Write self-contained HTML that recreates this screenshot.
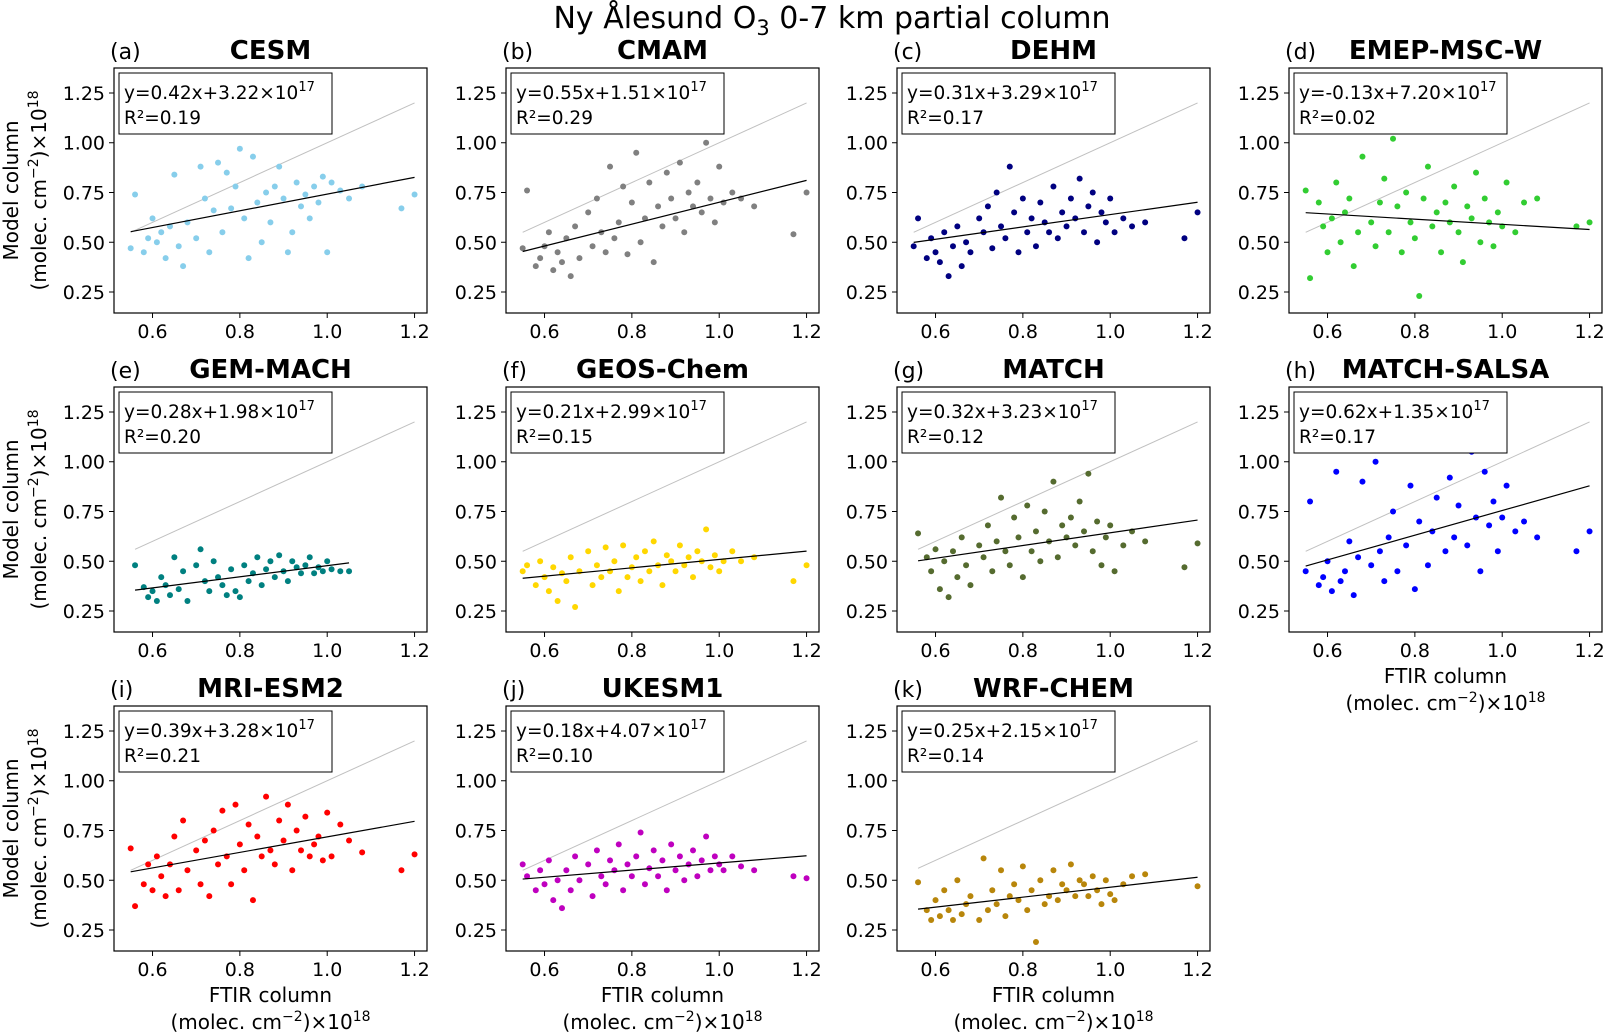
<!DOCTYPE html>
<html><head><meta charset="utf-8">
<style>
html,body{margin:0;padding:0;background:#fff;}
svg{display:block;font-family:"DejaVu Sans","Liberation Sans",sans-serif;}
</style></head>
<body>
<svg id="fig" width="1604" height="1035" viewBox="0 0 1604 1035" xmlns="http://www.w3.org/2000/svg">
<rect width="1604" height="1035" fill="#fff"/>
<text x="832" y="28" font-size="30" text-anchor="middle">Ny Ålesund O<tspan font-size="21" dy="7">3</tspan><tspan dy="-7"> 0-7 km partial column</tspan></text>
</svg>
<script>
const ftirX = [0.55,0.56,0.58,0.59,0.60,0.61,0.62,0.63,0.64,0.65,0.66,0.67,0.68,0.70,0.71,0.72,0.73,0.74,0.75,0.76,0.77,0.78,0.79,0.80,0.81,0.82,0.83,0.84,0.85,0.86,0.87,0.88,0.89,0.90,0.91,0.92,0.93,0.94,0.95,0.96,0.97,0.98,0.99,1.00,1.01,1.03,1.05,1.08,1.17,1.20];
const xTicks = [0.6,0.8,1.0,1.2];
const xTickLabels = ["0.6","0.8","1.0","1.2"];
const yTicks = [0.25,0.5,0.75,1.0,1.25];
const yTickLabels = ["0.25","0.50","0.75","1.00","1.25"];
const modelNames = ["CESM","CMAM","DEHM","EMEP-MSC-W","GEM-MACH","GEOS-Chem","MATCH","MATCH-SALSA","MRI-ESM2","UKESM1","WRF-CHEM"];
const panelLetters = ["(a)","(b)","(c)","(d)","(e)","(f)","(g)","(h)","(i)","(j)","(k)"];
const slopes = [0.42,0.55,0.31,-0.13,0.28,0.21,0.32,0.62,0.39,0.18,0.25];
const intercepts17 = [3.22,1.51,3.29,7.20,1.98,2.99,3.23,1.35,3.28,4.07,2.15];
const r2Values = ["0.19","0.29","0.17","0.02","0.20","0.15","0.12","0.17","0.21","0.10","0.14"];
const colors = ["#87ceeb","#808080","#000080","#32cd32","#008080","#ffd700","#556b2f","#0000ff","#ff0000","#bf00bf","#b8860b"];
const yCESM = [0.47,0.74,0.45,0.52,0.62,0.50,0.55,0.42,0.58,0.84,0.48,0.38,0.60,0.52,0.88,0.72,0.45,0.66,0.90,0.55,0.85,0.67,0.78,0.97,0.62,0.42,0.93,0.70,0.50,0.75,0.60,0.78,0.88,0.72,0.45,0.55,0.80,0.68,0.74,0.62,0.78,0.70,0.83,0.45,0.80,0.76,0.72,0.78,0.67,0.74];
const yCMAM = [0.47,0.76,0.38,0.42,0.48,0.55,0.36,0.45,0.40,0.52,0.33,0.58,0.42,0.65,0.48,0.72,0.55,0.45,0.88,0.52,0.60,0.78,0.44,0.70,0.95,0.50,0.62,0.80,0.40,0.68,0.58,0.85,0.72,0.62,0.90,0.55,0.75,0.68,0.80,0.65,1.00,0.72,0.60,0.88,0.70,0.75,0.72,0.68,0.54,0.75];
const yDEHM = [0.48,0.62,0.42,0.52,0.45,0.40,0.55,0.33,0.48,0.58,0.38,0.50,0.45,0.62,0.55,0.68,0.47,0.75,0.58,0.52,0.88,0.65,0.45,0.72,0.55,0.62,0.48,0.70,0.60,0.55,0.78,0.52,0.65,0.58,0.72,0.62,0.82,0.55,0.68,0.75,0.50,0.65,0.60,0.72,0.55,0.62,0.58,0.60,0.52,0.65];
const yEMEP = [0.76,0.32,0.70,0.58,0.45,0.62,0.80,0.50,0.65,0.72,0.38,0.55,0.93,0.60,0.48,0.70,0.82,0.55,1.02,0.68,0.45,0.75,0.60,0.52,0.23,0.72,0.88,0.58,0.65,0.45,0.70,0.60,0.78,0.55,0.40,0.68,0.62,0.85,0.50,0.72,0.60,0.48,0.65,0.58,0.80,0.55,0.70,0.72,0.58,0.60];
const yGEM = [null,0.48,0.37,0.32,0.35,0.30,0.42,0.38,0.33,0.52,0.36,0.45,0.30,0.48,0.56,0.40,0.35,0.50,0.42,0.38,0.33,0.46,0.35,0.32,0.48,0.40,0.44,0.52,0.38,0.46,0.50,0.42,0.53,0.45,0.40,0.50,0.47,0.44,0.48,0.52,0.44,0.47,0.45,0.50,0.46,0.45,0.45,null,null,null];
const yGEOS = [0.45,0.48,0.38,0.50,0.42,0.35,0.47,0.30,0.44,0.40,0.52,0.27,0.45,0.55,0.38,0.48,0.42,0.57,0.45,0.50,0.35,0.58,0.42,0.47,0.52,0.40,0.55,0.45,0.60,0.48,0.38,0.53,0.50,0.45,0.58,0.48,0.52,0.42,0.55,0.50,0.66,0.47,0.53,0.45,0.50,0.55,0.50,0.52,0.40,0.48];
const yMATCH = [null,0.64,0.52,0.45,0.56,0.36,0.50,0.32,0.55,0.42,0.62,0.48,0.38,0.58,0.52,0.68,0.45,0.60,0.82,0.55,0.48,0.72,0.62,0.42,0.78,0.55,0.65,0.50,0.75,0.60,0.90,0.52,0.68,0.62,0.72,0.58,0.80,0.65,0.94,0.55,0.70,0.48,0.62,0.68,0.45,0.58,0.65,0.60,0.47,0.59];
const ySALSA = [0.45,0.80,0.38,0.42,0.50,0.35,0.95,0.40,0.45,0.60,0.33,0.52,0.90,0.48,1.00,0.55,0.40,0.62,0.75,0.45,1.10,0.58,0.88,0.36,0.70,1.12,0.48,0.65,0.82,1.30,0.55,0.92,0.62,0.78,1.20,0.58,1.05,0.72,0.45,0.95,0.68,0.80,0.55,0.72,0.88,0.65,0.70,0.62,0.55,0.65];
const yMRI = [0.66,0.37,0.48,0.58,0.45,0.62,0.52,0.42,0.58,0.72,0.45,0.80,0.55,0.65,0.48,0.70,0.42,0.75,0.58,0.85,0.62,0.48,0.88,0.68,0.55,0.78,0.40,0.72,0.62,0.92,0.65,0.58,0.80,0.70,0.88,0.55,0.75,0.65,0.82,0.62,0.68,0.72,0.60,0.84,0.62,0.78,0.70,0.64,0.55,0.63];
const yUKESM = [0.58,0.52,0.45,0.55,0.48,0.60,0.40,0.50,0.36,0.55,0.45,0.62,0.50,0.58,0.42,0.65,0.52,0.48,0.60,0.55,0.68,0.45,0.58,0.52,0.62,0.74,0.48,0.56,0.65,0.52,0.60,0.45,0.68,0.55,0.62,0.50,0.58,0.65,0.52,0.60,0.72,0.55,0.62,0.58,0.55,0.62,0.57,0.55,0.52,0.51];
const yWRF = [null,0.49,0.35,0.30,0.40,0.32,0.45,0.35,0.30,0.50,0.33,0.38,0.42,0.30,0.61,0.35,0.45,0.38,0.55,0.32,0.42,0.48,0.40,0.57,0.35,0.45,0.19,0.50,0.38,0.42,0.55,0.40,0.48,0.45,0.58,0.42,0.50,0.48,0.42,0.52,0.45,0.38,0.50,0.43,0.40,0.48,0.52,0.53,null,0.47];
const allY = [yCESM,yCMAM,yDEHM,yEMEP,yGEM,yGEOS,yMATCH,ySALSA,yMRI,yUKESM,yWRF];

const NS = "http://www.w3.org/2000/svg";
const svg = document.getElementById('fig');
const colLeft = [114,506,897,1289], rowTop = [68,387,706];
const W = 313, H = 245, XMIN = 0.5118, XMAX = 1.2285, YMIN = 0.1445, YMAX = 1.3756;
function mk(tag, attrs, parent){const e=document.createElementNS(NS,tag);for(const k in attrs)e.setAttribute(k,attrs[k]);(parent||svg).appendChild(e);return e;}

modelNames.forEach((name,i)=>{
  const c=i%4, r=Math.floor(i/4), L=colLeft[c], T=rowTop[r];
  const sx=v=>L+(v-XMIN)/(XMAX-XMIN)*W;
  const sy=v=>T+H-(v-YMIN)/(YMAX-YMIN)*H;
  const g=mk('g',{});
  
  
  const ys=allY[i];
  const pts=ftirX.map((x,k)=>[x,ys[k]]).filter(p=>p[1]!==null);
  const xs=pts.map(p=>p[0]);
  const x0=Math.min(...xs), x1=Math.max(...xs);
  const one=mk('line',{x1:sx(x0),y1:sy(x0),x2:sx(1.2),y2:sy(1.2),stroke:'#c0c0c0','stroke-width':1},g);
  
  
  pts.forEach(p=>{
    const d=mk('circle',{cx:sx(p[0]),cy:sy(p[1]),r:3,fill:colors[i]},g);
    
    
  });
  const a=slopes[i], b=intercepts17[i]/10;
  const reg=mk('line',{x1:sx(x0),y1:sy(a*x0+b),x2:sx(x1),y2:sy(a*x1+b),stroke:'#000','stroke-width':1.2},g);
  
  
  const fr=mk('rect',{x:L,y:T,width:W,height:H,fill:'none',stroke:'#000','stroke-width':1.2},g);
  
  
  xTicks.forEach((v,k)=>{
    mk('line',{x1:sx(v),y1:T+H,x2:sx(v),y2:T+H+5,stroke:'#000'},g);
    const t=mk('text',{x:sx(v),y:T+H+25,'font-size':19,'text-anchor':'middle'},g);
    t.textContent=xTickLabels[k];
    
    
  });
  yTicks.forEach((v,k)=>{
    mk('line',{x1:L-5,y1:sy(v),x2:L,y2:sy(v),stroke:'#000'},g);
    const t=mk('text',{x:L-9,y:sy(v)+7,'font-size':19,'text-anchor':'end'},g);
    t.textContent=yTickLabels[k];
    
    
  });
  const bx=mk('rect',{x:L+5,y:T+5,width:213,height:61,fill:'#fff',stroke:'#000','stroke-width':1},g);
  
  
  const t1=mk('text',{x:L+10,y:T+31,'font-size':18.5},g);
  
  
  t1.innerHTML='y='+a.toFixed(2)+'x+'+intercepts17[i].toFixed(2)+'×10<tspan font-size="13" dy="-8">17</tspan>';
  const t2=mk('text',{x:L+10,y:T+56,'font-size':18.5},g);
  
  
  t2.textContent='R²='+r2Values[i];
  const lt=mk('text',{x:L-4,y:T-9,'font-size':22},g);
  lt.textContent=panelLetters[i];
  
  
  const tt=mk('text',{x:L+W/2,y:T-9,'font-size':26,'font-weight':'bold','text-anchor':'middle'},g);
  tt.textContent=name;
  
  
  if(c===0){
    const cy=T+H/2;
    const y1=mk('text',{x:0,y:0,'font-size':20,'text-anchor':'middle',transform:`translate(18,${cy}) rotate(-90)`},g);
    y1.textContent='Model column';
    
    
    const y2=mk('text',{x:0,y:0,'font-size':20,'text-anchor':'middle',transform:`translate(46,${cy}) rotate(-90)`},g);
    y2.innerHTML='(molec. cm<tspan font-size="14" dy="-8">−2</tspan><tspan dy="8">)×10</tspan><tspan font-size="14" dy="-8">18</tspan>';
    
    
  }
  if(r===2 || i===7){
    const xl=mk('text',{x:L+W/2,y:T+H+51,'font-size':20,'text-anchor':'middle'},g);
    xl.textContent='FTIR column';
    
    
    const x2=mk('text',{x:L+W/2,y:T+H+78,'font-size':20,'text-anchor':'middle'},g);
    x2.innerHTML='(molec. cm<tspan font-size="14" dy="-8">−2</tspan><tspan dy="8">)×10</tspan><tspan font-size="14" dy="-8">18</tspan>';
    
    
  }
});
</script>
</body></html>
